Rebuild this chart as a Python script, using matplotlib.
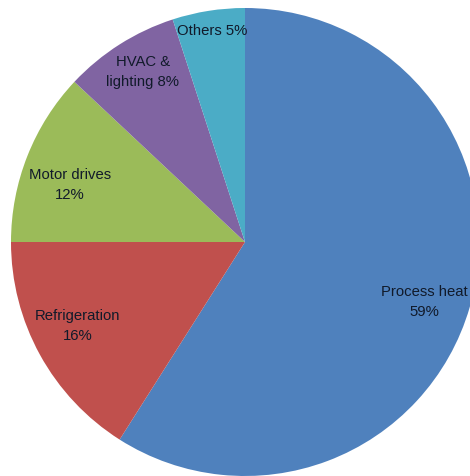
import matplotlib
matplotlib.use("Agg")
import matplotlib.pyplot as plt

# Share of industrial energy use by end use
categories = ["Process heat", "Refrigeration", "Motor drives", "HVAC &\nlighting", "Others"]
shares = [59, 16, 12, 8, 5]
colors = ["#4F81BD", "#C0504D", "#9BBB59", "#8064A2", "#4BACC6"]

# label anchor points in pixel space (x from left, y from top) and separators
label_xy = [(424, 302), (78, 326), (70, 185), (143, 72), (212, 31)]
label_sep = ["\n", "\n", "\n", " ", " "]

W, H = 470, 476
fig = plt.figure(figsize=(W / 100, H / 100), dpi=100)
ax = fig.add_axes([0, 0, 1, 1])

cx, cy, r = 245, H - 242, 234
ax.pie(shares, colors=colors, startangle=90, counterclock=False,
       center=(cx, cy), radius=r, wedgeprops=dict(linewidth=0),
       frame=True)
ax.set_xlim(0, W)
ax.set_ylim(0, H)
ax.set_aspect("auto")
ax.axis("off")

for name, val, (lx, ly), sep in zip(categories, shares, label_xy, label_sep):
    ax.text(lx, H - ly, f"{name}{sep}{val}%", ha="center", va="center",
            fontsize=10.7, family="Liberation Sans", color="#111a2a",
            linespacing=1.55)

fig.savefig("out.png", dpi=100)
